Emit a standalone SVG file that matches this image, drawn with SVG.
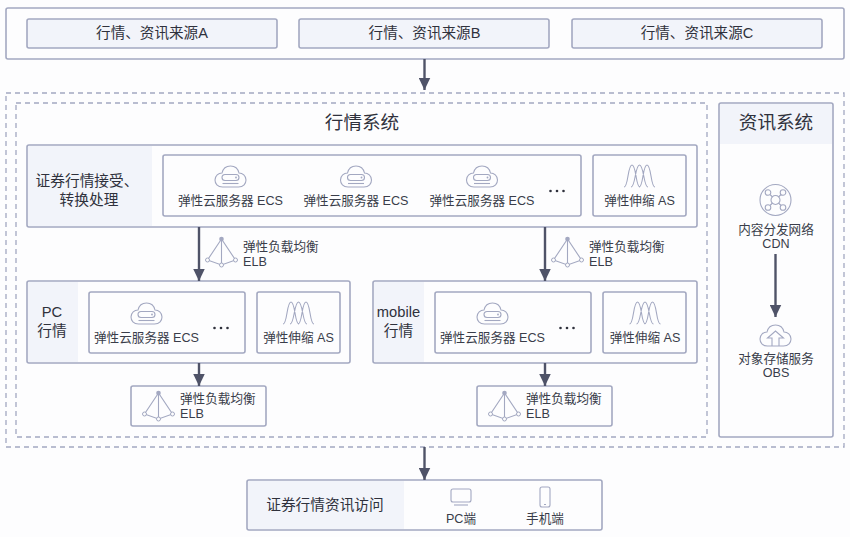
<svg xmlns="http://www.w3.org/2000/svg" xmlns:xlink="http://www.w3.org/1999/xlink" width="850" height="537" viewBox="0 0 850 537">
<style>
text{font-family:"Liberation Sans","Noto Sans CJK SC",sans-serif;fill:#3a3d4a;text-anchor:middle}
.box{fill:#fdfdfe;stroke:#a3a8c1;stroke-width:1.6}
.fill{fill:#f2f4fa}
.src{fill:#f2f4fa;stroke:#a3a8c1;stroke-width:1.6}
.dash{fill:none;stroke:#a3a8c1;stroke-width:1.3;stroke-dasharray:5 4}
.ic{fill:none;stroke:#a3a8c1;stroke-width:1.1}
.conn{stroke:#4f5368;stroke-width:2.4;fill:none;marker-end:url(#arr)}
.t15{font-size:14.6px;fill:#2f313c}
.t14{font-size:14.7px;fill:#2f313c}
.t12{font-size:12.6px}
.t18{font-size:18.6px;fill:#2f313c}
</style>
<defs>
<marker id="arr" markerUnits="userSpaceOnUse" markerWidth="13" markerHeight="12" refX="12.500" refY="6" orient="auto"><path d="M0 0L12.500 6L0 12Z" fill="#4f5368"/></marker>
<g id="cloud"><path class="ic" d="M-8 11H8C13 11 15.500 7.500 15.500 4C15.500 -0.500 12 -3 8.500 -3C7.500 -7.500 4 -10 0 -10C-4 -10 -7.500 -7.500 -8.500 -3C-12 -3 -15.500 -0.500 -15.500 4C-15.500 7.500 -13 11 -8 11Z"/><rect class="ic" x="-8.500" y="-1.500" width="17" height="6" rx="3"/><path class="ic" d="M-8 7.500H8"/><circle cx="5.500" cy="1.500" r="0.900" fill="#a3a8c1"/></g>
<g id="wave"><path class="ic" d="M-15.500 11C-11 11 -12 -11 -7.500 -11C-3 -11 -4 11 0.500 11M-8.500 11C-4 11 -4.500 -11 0 -11C4.500 -11 4 11 8.500 11M-0.500 11C4 11 3 -11 7.500 -11C12 -11 11 11 15.500 11"/></g>
<g id="elb"><path class="ic" d="M0 -14L-14 7L0 12L14 7ZM0 -14V12"/><circle cx="0" cy="-14" r="2.300" fill="#a3a8c1"/><circle cx="-14" cy="7" r="2" fill="#fdfdfe" stroke="#a3a8c1"/><circle cx="14" cy="7" r="2" fill="#fdfdfe" stroke="#a3a8c1"/><circle cx="0" cy="12" r="2" fill="#fdfdfe" stroke="#a3a8c1"/></g>
<g id="dots"><circle cx="-6.500" cy="0" r="1.300" fill="#2f313c"/><circle cx="0" cy="0" r="1.300" fill="#2f313c"/><circle cx="6.500" cy="0" r="1.300" fill="#2f313c"/></g>
</defs>
<rect width="850" height="537" fill="#fdfdfe"/>
<g id="sources">
<rect class="box" x="6" y="8" width="838" height="51" rx="2"/>
<rect class="src" x="27" y="19" width="250" height="29" rx="2"/><text class="t15" x="152" y="38">行情、资讯来源A</text>
<rect class="src" x="299" y="19" width="250" height="29" rx="2"/><text class="t15" x="424.500" y="38">行情、资讯来源B</text>
<rect class="src" x="572" y="19" width="250" height="29" rx="2"/><text class="t15" x="697" y="38">行情、资讯来源C</text>
</g>
<g id="outer-frame"><rect class="dash" x="6" y="93" width="838" height="354"/></g>
<g id="market-system"><rect class="dash" x="16" y="103" width="691" height="334"/><text class="t18" x="362" y="129">行情系统</text></g>
<g id="receive">
<rect class="box" x="27" y="145" width="670" height="82" rx="2"/>
<rect class="fill" x="28" y="146" width="124" height="80"/>
<text class="t14" x="87" y="186">证券行情接受、</text><text class="t14" x="89" y="205">转换处理</text>
<rect class="box" x="163" y="155" width="418" height="61" rx="2"/>
<use xlink:href="#cloud" href="#cloud" x="230.500" y="176"/><text class="t12" x="230.500" y="205">弹性云服务器 ECS</text>
<use xlink:href="#cloud" href="#cloud" x="356" y="176"/><text class="t12" x="356" y="205">弹性云服务器 ECS</text>
<use xlink:href="#cloud" href="#cloud" x="482" y="176"/><text class="t12" x="482" y="205">弹性云服务器 ECS</text>
<use xlink:href="#dots" href="#dots" x="557" y="191"/>
<rect class="box" x="593" y="155" width="93" height="61" rx="2"/>
<use xlink:href="#wave" href="#wave" x="639.500" y="176"/><text class="t12" x="639.500" y="205">弹性伸缩 AS</text>
</g>
<g id="elb-left"><use xlink:href="#elb" href="#elb" x="221.500" y="253"/><text class="t12" x="243" y="251" style="text-anchor:start">弹性负载均衡</text><text class="t12" x="243" y="266" style="text-anchor:start">ELB</text></g>
<g id="elb-right"><use xlink:href="#elb" href="#elb" x="567.500" y="253"/><text class="t12" x="589" y="251" style="text-anchor:start">弹性负载均衡</text><text class="t12" x="589" y="266" style="text-anchor:start">ELB</text></g>
<g id="pc">
<rect class="box" x="27" y="281" width="323" height="82" rx="2"/>
<rect class="fill" x="28" y="282" width="50" height="80"/>
<text class="t14" x="52" y="317">PC</text><text class="t14" x="52" y="336">行情</text>
<rect class="box" x="89" y="292" width="156" height="61" rx="2"/>
<use xlink:href="#cloud" href="#cloud" x="146.500" y="313"/><text class="t12" x="146.500" y="342">弹性云服务器 ECS</text>
<use xlink:href="#dots" href="#dots" x="221" y="328"/>
<rect class="box" x="257" y="292" width="83" height="61" rx="2"/>
<use xlink:href="#wave" href="#wave" x="298.500" y="313"/><text class="t12" x="298.500" y="342">弹性伸缩 AS</text>
</g>
<g id="mobile">
<rect class="box" x="373" y="281" width="324" height="82" rx="2"/>
<rect class="fill" x="374" y="282" width="50" height="80"/>
<text class="t14" x="398.500" y="317">mobile</text><text class="t14" x="398.500" y="336">行情</text>
<rect class="box" x="435" y="292" width="156" height="61" rx="2"/>
<use xlink:href="#cloud" href="#cloud" x="492.500" y="313"/><text class="t12" x="492.500" y="342">弹性云服务器 ECS</text>
<use xlink:href="#dots" href="#dots" x="567" y="328"/>
<rect class="box" x="603" y="292" width="83" height="61" rx="2"/>
<use xlink:href="#wave" href="#wave" x="645" y="313"/><text class="t12" x="645" y="342">弹性伸缩 AS</text>
</g>
<g id="elb-pc"><rect class="box" x="131" y="386" width="135" height="40" rx="2"/><use xlink:href="#elb" href="#elb" x="158.500" y="407"/><text class="t12" x="180" y="403" style="text-anchor:start">弹性负载均衡</text><text class="t12" x="180" y="418" style="text-anchor:start">ELB</text></g>
<g id="elb-mobile"><rect class="box" x="477" y="386" width="135" height="40" rx="2"/><use xlink:href="#elb" href="#elb" x="504.500" y="407"/><text class="t12" x="526" y="403" style="text-anchor:start">弹性负载均衡</text><text class="t12" x="526" y="418" style="text-anchor:start">ELB</text></g>
<g id="info-system">
<rect class="box" x="719" y="103" width="114" height="334" rx="2"/>
<rect class="fill" x="720" y="104" width="112" height="40"/>
<text class="t18" x="776" y="129">资讯系统</text>
<g transform="translate(775.500 200)"><circle class="ic" r="15.500"/><circle class="ic" r="4.500"/><circle class="ic" cx="-7.500" cy="-7.500" r="2.800"/><circle class="ic" cx="7.500" cy="-7.500" r="2.800"/><circle class="ic" cx="-7.500" cy="7.500" r="2.800"/><circle class="ic" cx="7.500" cy="7.500" r="2.800"/><path class="ic" d="M-5.500 -5.500L-3 -3M5.500 -5.500L3 -3M-5.500 5.500L-3 3M5.500 5.500L3 3"/></g>
<text class="t12" x="776" y="234">内容分发网络</text><text class="t12" x="776" y="248">CDN</text>
<g transform="translate(775.500 335)"><path class="ic" d="M-8 11H8C13 11 15.500 7.500 15.500 4C15.500 -0.500 12 -3 8.500 -3C7.500 -7.500 4 -10 0 -10C-4 -10 -7.500 -7.500 -8.500 -3C-12 -3 -15.500 -0.500 -15.500 4C-15.500 7.500 -13 11 -8 11Z"/><path class="ic" d="M-3.500 11V3H-8L0 -4L8 3H3.500V11"/></g>
<text class="t12" x="776" y="363">对象存储服务</text><text class="t12" x="776" y="377">OBS</text>
</g>
<g id="access">
<rect class="box" x="247" y="480" width="355" height="50" rx="2"/>
<rect class="fill" x="248" y="481" width="156" height="48"/>
<text class="t14" x="325" y="510">证券行情资讯访问</text>
<rect class="ic" x="451" y="489" width="20" height="13" rx="2"/><path class="ic" d="M454 505H468"/>
<text class="t12" x="461" y="523">PC端</text>
<rect class="ic" x="540" y="487" width="10" height="20" rx="2"/><path class="ic" d="M544 504.500H546"/>
<text class="t12" x="545" y="523">手机端</text>
</g>
<g id="connectors">
<path class="conn" d="M424.500 59V90"/>
<path class="conn" d="M199 227V281"/>
<path class="conn" d="M545 227V281"/>
<path class="conn" d="M199 363V386"/>
<path class="conn" d="M545 363V386"/>
<path class="conn" d="M775.500 254V317"/>
<path class="conn" d="M424.500 447V480"/>
</g>
</svg>
